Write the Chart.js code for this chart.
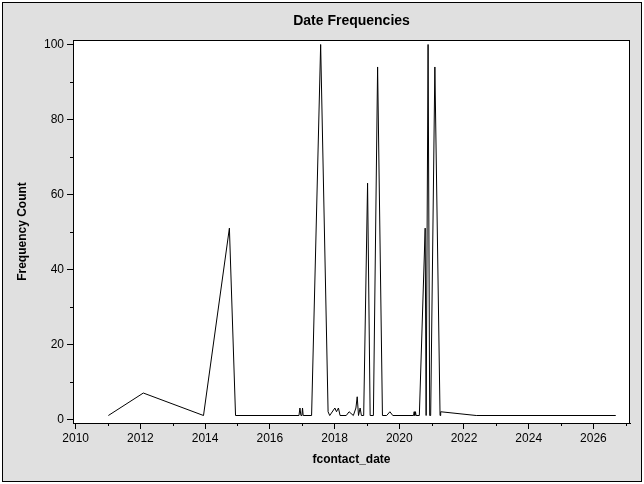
<!DOCTYPE html>
<html>
<head>
<meta charset="utf-8">
<script src="https://cdn.jsdelivr.net/npm/chart.js"></script>
<style>
  html, body { margin: 0; padding: 0; background: #fff; }
</style>
</head>
<body>
<canvas id="dateChart" width="644" height="484"></canvas>
<script>
const dates = [
  2011.01, 2012.09, 2013.95, 2014.75, 2014.94, 2016.90, 2016.93, 2016.96, 2016.99, 2017.01,
  2017.03, 2017.29, 2017.57, 2017.80, 2017.85, 2018.01, 2018.06, 2018.12, 2018.17, 2018.36,
  2018.45, 2018.58, 2018.66, 2018.70, 2018.74, 2018.79, 2018.83, 2018.90, 2019.02, 2019.10,
  2019.20, 2019.33, 2019.48, 2019.61, 2019.71, 2019.80, 2020.44, 2020.46, 2020.48, 2020.50,
  2020.52, 2020.62, 2020.80, 2020.83, 2020.85, 2020.89, 2020.94, 2020.97, 2021.10, 2021.26,
  2021.28, 2022.38, 2026.69
];
const counts = [
  1, 7, 1, 51, 1, 1, 3, 1, 1, 3,
  1, 1, 100, 2, 1, 3, 2, 3, 1, 1,
  2, 1, 3, 6, 1, 3, 1, 1, 63, 1,
  1, 94, 1, 1, 2, 1, 1, 2, 1, 2,
  1, 1, 51, 1, 1, 100, 1, 1, 94, 1,
  2, 1, 1
];
const xTicks = [2010, 2012, 2014, 2016, 2018, 2020, 2022, 2024, 2026];
const xMinorTicks = [2011, 2013, 2015, 2017, 2019, 2021, 2023, 2025, 2027];
const yTicks = [0, 20, 40, 60, 80, 100];
const yMinorTicks = [10, 30, 50, 70, 90];

const font = 'Liberation Sans, Arial, sans-serif';

const framePlugin = {
  id: 'frame',
  beforeDraw(chart) {
    const { ctx, chartArea: a } = chart;
    ctx.save();
    ctx.fillStyle = '#fff';
    ctx.fillRect(0, 0, chart.width, chart.height);
    ctx.fillStyle = '#e0e0e0';
    ctx.fillRect(2.5, 2.5, 639, 479);
    ctx.strokeStyle = '#000';
    ctx.lineWidth = 1;
    ctx.strokeRect(2.5, 2.5, 639, 479);
    ctx.fillStyle = '#fff';
    ctx.fillRect(a.left, a.top, a.right - a.left, a.bottom - a.top);
    ctx.restore();
  },
  afterDraw(chart) {
    const { ctx, chartArea: a, scales } = chart;
    ctx.save();
    ctx.strokeStyle = '#000';
    ctx.lineWidth = 1;
    ctx.strokeRect(a.left + 0.5, a.top + 0.5, a.right - a.left - 1, a.bottom - a.top);
    // minor ticks
    ctx.beginPath();
    xMinorTicks.forEach(v => {
      const px = Math.round(scales.x.getPixelForValue(v)) + 0.5;
      ctx.moveTo(px, a.bottom);
      ctx.lineTo(px, a.bottom + 3);
    });
    yMinorTicks.forEach(v => {
      const py = Math.round(scales.y.getPixelForValue(v)) + 0.5;
      ctx.moveTo(a.left - 3, py);
      ctx.lineTo(a.left, py);
    });
    ctx.stroke();
    // title
    ctx.fillStyle = '#000';
    ctx.font = 'bold 14px ' + font;
    ctx.textAlign = 'center';
    ctx.textBaseline = 'middle';
    ctx.fillText('Date Frequencies', (a.left + a.right) / 2, 21);
    ctx.restore();
  }
};

new Chart(document.getElementById('dateChart').getContext('2d'), {
  type: 'line',
  data: {
    datasets: [{
      label: 'Frequency Count',
      data: dates.map((d, i) => ({ x: d, y: counts[i] })),
      borderColor: '#000',
      borderWidth: 1,
      pointRadius: 0,
      tension: 0,
      fill: false
    }]
  },
  options: {
    responsive: false,
    animation: false,
    devicePixelRatio: 1,
    layout: { padding: { left: 0, right: 14, top: 40, bottom: 0 } },
    plugins: {
      legend: { display: false },
      tooltip: { enabled: false },
      title: { display: false }
    },
    scales: {
      x: {
        type: 'linear',
        min: 2009.917,
        max: 2027.13,
        afterBuildTicks: s => { s.ticks = xTicks.map(v => ({ value: v })); },
        afterFit: s => { s.height = 61; },
        ticks: {
          color: '#000',
          font: { family: font, size: 12 },
          padding: 2,
          maxRotation: 0,
          autoSkip: false,
          callback: v => String(v)
        },
        grid: { drawOnChartArea: false, tickLength: 6, tickColor: '#000' },
        border: { color: '#000', width: 1 },
        title: {
          display: true,
          text: 'fcontact_date',
          color: '#000',
          font: { family: font, size: 12, weight: 'bold' },
          padding: { top: 0, bottom: 17 }
        }
      },
      y: {
        min: -1,
        max: 101.2,
        afterBuildTicks: s => { s.ticks = yTicks.map(v => ({ value: v })); },
        afterFit: s => { s.width = 73; },
        ticks: {
          color: '#000',
          font: { family: font, size: 12 },
          padding: 3,
          autoSkip: false
        },
        grid: { drawOnChartArea: false, tickLength: 6, tickColor: '#000' },
        border: { color: '#000', width: 1 },
        title: {
          display: true,
          text: 'Frequency Count',
          color: '#000',
          font: { family: font, size: 12, weight: 'bold' },
          padding: { top: 15, bottom: 0 }
        }
      }
    }
  },
  plugins: [framePlugin]
});
</script>
</body>
</html>
